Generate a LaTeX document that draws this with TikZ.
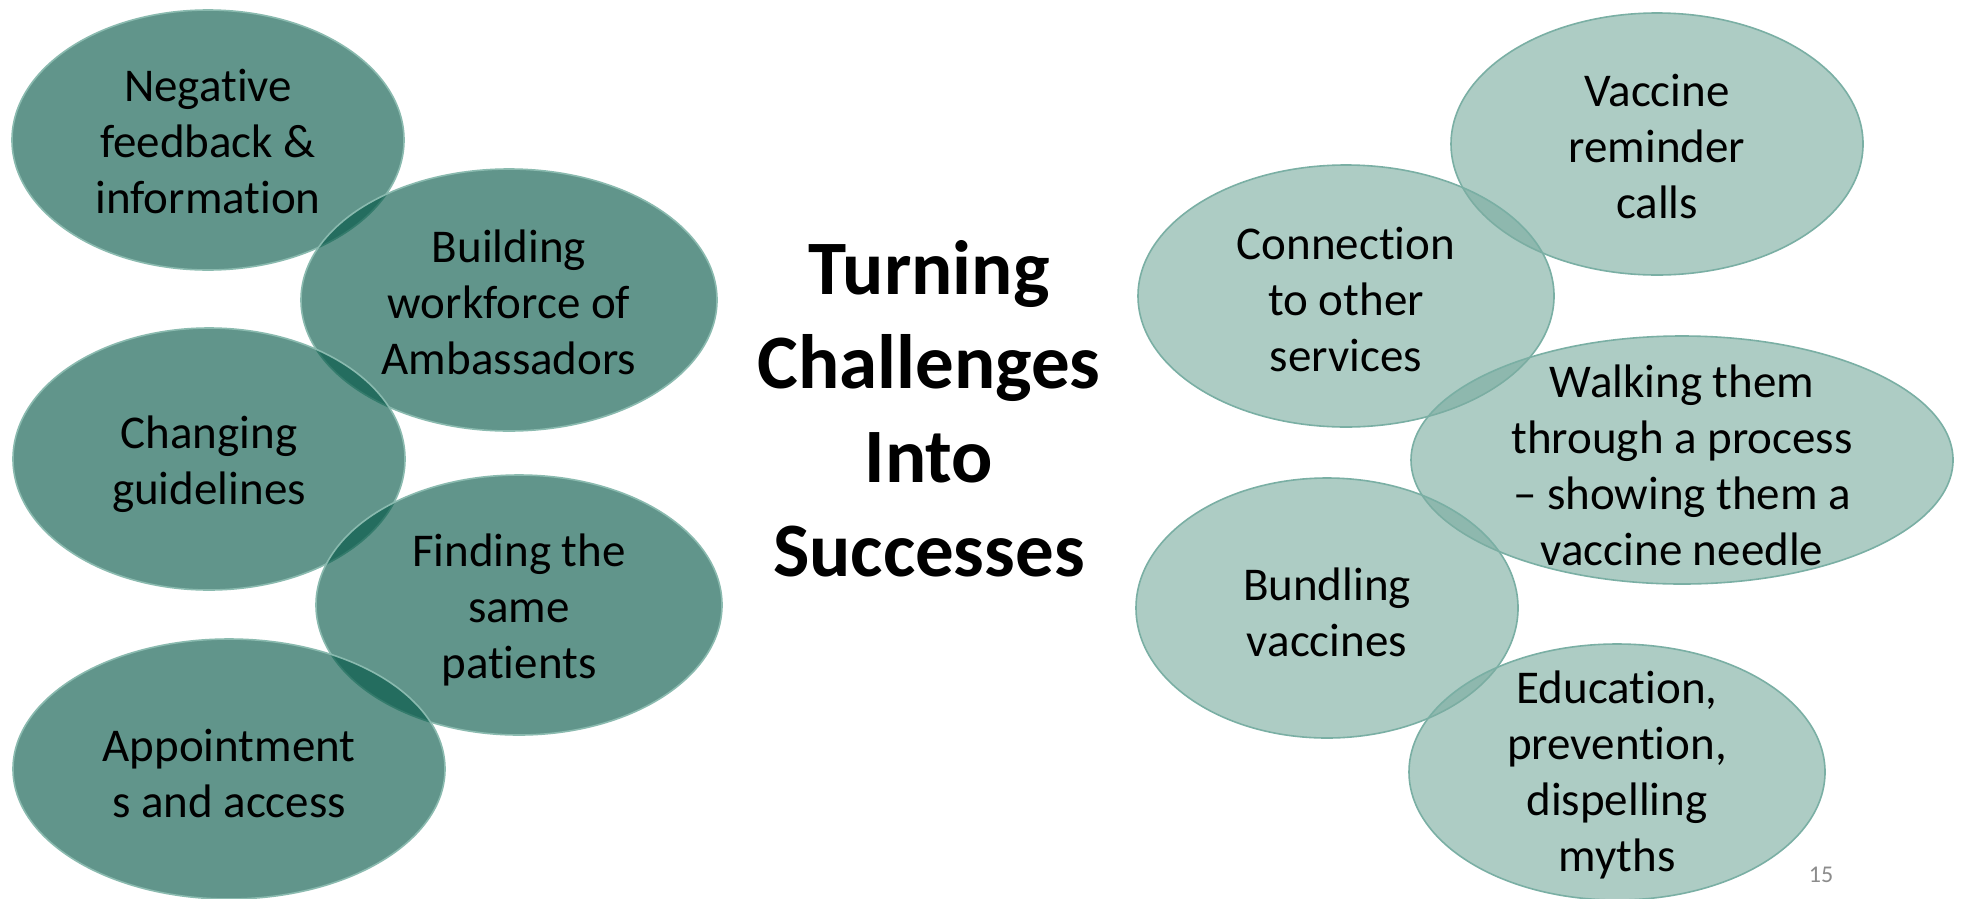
\documentclass[tikz,border=0pt]{standalone}
\usepackage{fontspec}
\setmainfont{Carlito}[Ligatures=NoCommon]
\usetikzlibrary{shapes.geometric}
\definecolor{darkbase}{RGB}{0,85,68}
\definecolor{lightbase}{RGB}{124,173,161}
\definecolor{darkedge}{RGB}{138,186,175}
\definecolor{lightedge}{RGB}{122,175,164}
\definecolor{pagegray}{RGB}{140,140,140}
\tikzset{
  blob/.style={ellipse, inner sep=0pt, line width=1.6pt, fill opacity=0.62},
  darkblob/.style={blob, fill=darkbase, draw=darkedge},
  lightblob/.style={blob, fill=lightbase, draw=lightedge},
  sz/.style 2 args={minimum width=#1pt, minimum height=#2pt},
  blobtext/.style={align=center, inner sep=0pt, text=black,
    font=\fontsize{47}{56}\selectfont},
}
\begin{document}
\begin{tikzpicture}[x=1pt,y=-1pt]
\useasboundingbox (0,0) rectangle (1961,898);
\fill[white] (0,0) rectangle (1961,898);
% left group
\node[darkblob, sz={392}{260}] (neg) at (208,140) {};
\node[blobtext] (negT) at ([yshift=-1pt]neg.center) {Negative\\feedback \&\\information};
\node[darkblob, sz={416}{262}] (build) at (509,300) {};
\node[blobtext] (buildT) at ([yshift=-2pt]build.center) {Building\\workforce of\\Ambassadors};
\node[darkblob, sz={392}{262}] (chg) at (209,459) {};
\node[blobtext] (chgT) at ([yshift=-5pt]chg.center) {Changing\\guidelines};
\node[darkblob, sz={406}{260}] (find) at (519,605) {};
\node[blobtext] (findT) at ([yshift=-5pt]find.center) {Finding the\\same\\patients};
\node[darkblob, sz={432}{260}] (appt) at (229,769) {};
\node[blobtext] (apptT) at ([yshift=-4pt]appt.center) {Appointment\\s and access};
% right group
\node[lightblob, sz={412}{262}] (vac) at (1657,144) {};
\node[blobtext] (vacT) at ([yshift=-2pt]vac.center) {Vaccine\\reminder\\calls};
\node[lightblob, sz={416}{262}] (conn) at (1346,296) {};
\node[blobtext] (connT) at ([yshift=-3pt]conn.center) {Connection\\to other\\services};
\node[lightblob, sz={542}{248}] (walk) at (1682,460) {};
\node[blobtext] (walkT) at ([yshift=-5pt]walk.center) {Walking them\\through a process\\– showing them a\\vaccine needle};
\node[lightblob, sz={382}{260}] (bund) at (1327,608) {};
\node[blobtext] (bundT) at ([yshift=-4pt]bund.center) {Bundling\\vaccines};
\node[lightblob, sz={416}{256}] (edu) at (1617,772) {};
\node[blobtext] (eduT) at ([yshift=-3pt]edu.center) {Education,\\prevention,\\dispelling\\myths};
% title
\node[align=center, font=\fontsize{77}{94}\selectfont\bfseries] (title) at (929,409) {Turning\\Challenges\\Into\\Successes};
% page number
\node[text=pagegray, font=\fontsize{24}{28}\selectfont] (page) at (1821,875) {15};
\end{tikzpicture}
\end{document}
